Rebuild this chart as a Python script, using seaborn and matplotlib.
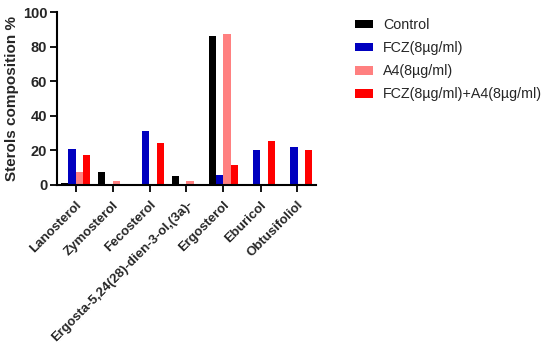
import pandas as pd
import matplotlib.pyplot as plt
import seaborn as sns

sterols = ["Lanosterol", "Zymosterol", "Fecosterol", "Ergosta-5,24(28)-dien-3-ol,(3a)-",
           "Ergosterol", "Eburicol", "Obtusifoliol"]
groups = ["Control", "FCZ(8µg/ml)", "A4(8µg/ml)", "FCZ(8µg/ml)+A4(8µg/ml)"]

control = [1.0, 7.5, 0, 5.0, 86.0, 0, 0]
fcz     = [21.0, 0, 31.5, 0, 5.5, 20.0, 22.0]
a4      = [7.5, 2.5, 0, 2.5, 87.5, 0, 0]
combo   = [17.5, 0, 24.5, 0, 11.5, 25.5, 20.5]

colors = ["#000000", "#0000BF", "#FF8080", "#FF0000"]

rows = []
for g, vals in zip(groups, [control, fcz, a4, combo]):
    for s, v in zip(sterols, vals):
        rows.append({"sterol": s, "group": g, "value": v})
df = pd.DataFrame(rows)

sns.set_style("ticks")
plt.rcParams["font.family"] = ["Liberation Sans", "DejaVu Sans"]

fig = plt.figure(figsize=(5.5, 3.46), dpi=100)
ax = fig.add_axes([57/550, 1 - 185/346, 259/550, 173/346])

sns.barplot(data=df, x="sterol", y="value", hue="group", order=sterols, hue_order=groups,
            palette=colors, saturation=1, linewidth=0, width=0.8, ax=ax)

ax.set_xlim(-0.5, 6.5)
ax.set_ylim(0, 100)
ax.set_yticks([0, 20, 40, 60, 80, 100])
ax.set_xlabel("")
ax.set_ylabel("Sterols composition %", fontsize=11, fontweight="bold", labelpad=3)
ax.tick_params(axis="both", length=5, width=1.3, color="black", labelsize=10.5)
ax.tick_params(axis="y", pad=2)
ax.tick_params(axis="x", pad=5)
for lab in ax.get_yticklabels():
    lab.set_fontweight("bold")
ax.set_xticks(range(len(sterols)))
ax.set_xticklabels(sterols, rotation=45, ha="right", rotation_mode="anchor",
                   fontweight="bold", fontsize=9.5)
sns.despine(ax=ax)
for sp in ["left", "bottom"]:
    ax.spines[sp].set_linewidth(1.5)
    ax.spines[sp].set_color("black")

handles, labels = ax.get_legend_handles_labels()
ax.legend(handles, labels, loc="upper left", bbox_to_anchor=(355/550, 1 - 18/346),
          bbox_transform=fig.transFigure, frameon=False, fontsize=10.3,
          handlelength=1.26, handleheight=0.56, handletextpad=0.7,
          labelspacing=0.64, borderpad=0, borderaxespad=0)

fig.savefig("out.png", dpi=100)
